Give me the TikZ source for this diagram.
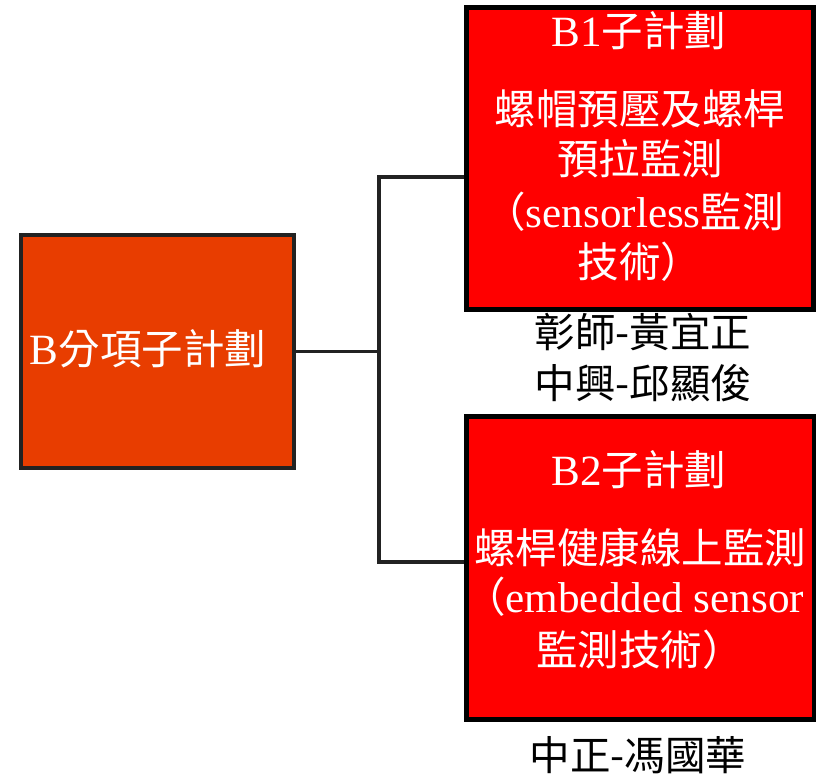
\documentclass[tikz,border=0pt]{standalone}
\usepackage{fontspec}
\setmainfont{Liberation Serif}[Scale=1.04]
\newfontfamily\cjk{Noto Sans CJK TC}
\usetikzlibrary{calc}
\definecolor{Bfill}{RGB}{232,61,0}
\definecolor{Bline}{RGB}{34,34,34}
\begin{document}
\begin{tikzpicture}[x=1pt,y=-1pt,
  mainbox/.style={draw=Bline, line width=4pt, fill=Bfill, inner sep=0pt},
  subbox/.style={draw=black, line width=5pt, fill=red, inner sep=0pt},
  wtxt/.style={text=white, font=\fontsize{41.5}{41.5}\selectfont, inner sep=0pt, anchor=base},
  ktxt/.style={text=black, font=\fontsize{40.5}{40.5}\selectfont, inner sep=0pt, anchor=base},
  conn/.style={draw=Bline, line width=3.5pt}]
\useasboundingbox (0,0) rectangle (816,775);
% boxes
\node[mainbox, minimum width=273pt, minimum height=233pt] (B) at (157.5,351.5) {};
\node[subbox, minimum width=347pt, minimum height=302pt] (B1) at (640,158.5) {};
\node[subbox, minimum width=348pt, minimum height=303pt] (B2) at (640,567.5) {};
% texts
\node[wtxt] (tB) at (148,364) {B{\cjk 分項子計劃}};
\node[wtxt] (t11) at (639,47) {B1{\cjk 子計劃}};
\node[wtxt] (t12) at (640,125) {\cjk 螺帽預壓及螺桿};
\node[wtxt] (t13) at (640,175) {\cjk 預拉監測};
\node[wtxt] (t14) at (634,228) {{\cjk （}sensorless{\cjk 監測}};
\node[wtxt] (t15) at (640,278) {\cjk 技術）};
\node[wtxt] (t21) at (639,485) {B2{\cjk 子計劃}};
\node[wtxt] (t22) at (640,563) {\cjk 螺桿健康線上監測};
\node[wtxt] (t23) at (634,612) {{\cjk （}embedded sensor};
\node[wtxt] (t24) at (640,665) {\cjk 監測技術）};
\node[ktxt] (n1) at (643,348) {\cjk 彰師-黃宜正};
\node[ktxt] (n2) at (643,398) {\cjk 中興-邱顯俊};
\node[ktxt] (n3) at (638,770) {\cjk 中正-馮國華};
% connectors
\path (B.east) ++(83,0) coordinate (J);
\coordinate (b1in) at ($(B1.west)+(0,18.5)$);
\coordinate (b2in) at ($(B2.west)+(0,-5.5)$);
\draw[conn] (B.east) -- (J);
\draw[conn] (b1in) -| (J) |- (b2in);
\end{tikzpicture}
\end{document}
